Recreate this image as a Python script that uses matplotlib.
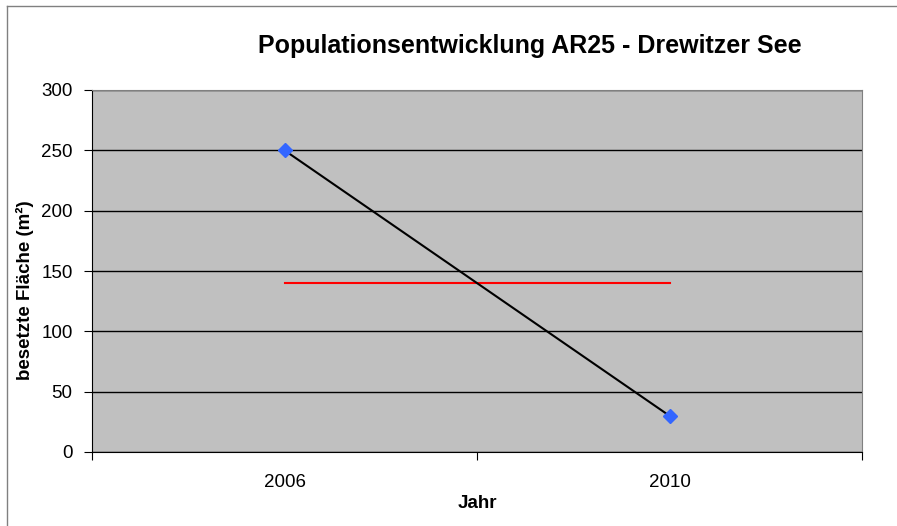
import matplotlib
matplotlib.use('Agg')
import matplotlib.pyplot as plt
from matplotlib.lines import Line2D

# Daten
jahre = ['2006', '2010']
flaeche = [250, 30]
mittelwert = [140, 140]

plt.rcParams['font.family'] = ['Liberation Sans', 'DejaVu Sans']

fig = plt.figure(figsize=(8.97, 5.26), dpi=100)
ax = fig.add_axes([92 / 897, 74 / 526, 770 / 897, 362 / 526])
ax.set_facecolor('#c0c0c0')

x = list(range(len(jahre)))
ax.plot(x, mittelwert, color='#ff0000', linewidth=1.5, zorder=3)
ax.plot(x, flaeche, color='black', linewidth=1.5, marker='D', markersize=7.5,
        markerfacecolor='#3366ff', markeredgecolor='#3366ff', zorder=4)

ax.set_xlim(-0.5, len(jahre) - 0.5)
ax.set_ylim(0, 300)
ax.set_yticks(range(0, 301, 50))
ax.yaxis.grid(True, color='black', linewidth=1)
ax.set_axisbelow(True)

# Kategorien: Striche an den Grenzen, Beschriftung in der Mitte
ax.set_xticks([i - 0.5 for i in range(len(jahre) + 1)])
ax.set_xticklabels([])
ax.set_xticks(x, minor=True)
ax.set_xticklabels(jahre, minor=True)
ax.tick_params(axis='x', which='minor', length=0, pad=16, labelsize=13.5)
ax.tick_params(axis='x', which='major', length=6, direction='out')
ax.tick_params(axis='y', length=6, direction='out', labelsize=13.5, pad=8)

for s in ['top', 'right']:
    ax.spines[s].set_color('#808080')
for s in ['left', 'bottom']:
    ax.spines[s].set_color('black')

ax.set_xlabel('Jahr', fontweight='bold', fontsize=13.5, va='center')
ax.xaxis.set_label_coords(0.5, -(503 - 452) / 362)
ax.set_ylabel('besetzte Fläche (m²)', fontweight='bold', fontsize=13.5, va='center')
ax.yaxis.set_label_coords((25 - 92) / 770, (452 - 290) / 362)

fig.text(530 / 897, 1 - 46 / 526, 'Populationsentwicklung AR25 - Drewitzer See',
         ha='center', va='center', fontsize=18, fontweight='bold')

# Rahmen
fig.add_artist(Line2D([7 / 897, 7 / 897], [0, 1 - 6 / 526], color='#808080', linewidth=1))
fig.add_artist(Line2D([7 / 897, 1], [1 - 6 / 526, 1 - 6 / 526], color='#808080', linewidth=1))

fig.savefig('out.png', dpi=100)
